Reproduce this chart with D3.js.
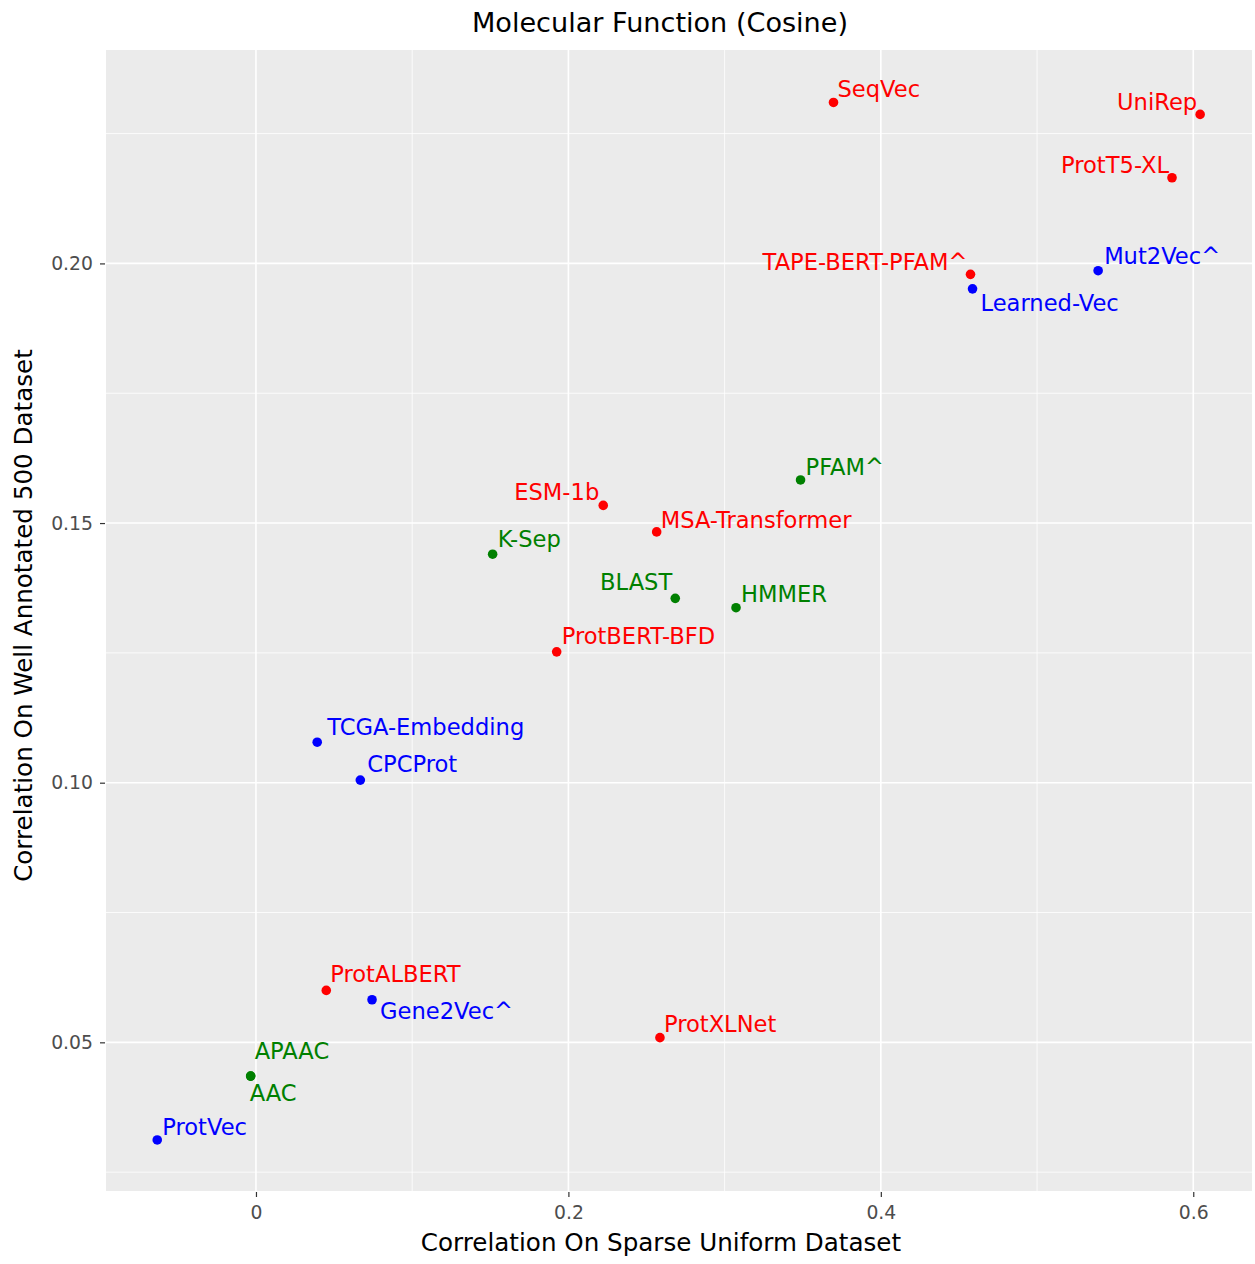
<!DOCTYPE html>
<html>
<head>
<meta charset="utf-8">
<script src="https://cdn.jsdelivr.net/npm/d3@7"></script>
<style>
  html, body { margin: 0; padding: 0; background: #ffffff; }
  svg { display: block; font-family: "DejaVu Sans", sans-serif; }
</style>
</head>
<body>
<svg id="chart" width="1255" height="1264"></svg>
<script>
// Embedding methods and their correlations on the two benchmark datasets
const methods = [
  "SeqVec", "UniRep", "ProtT5-XL", "TAPE-BERT-PFAM^", "Learned-Vec", "Mut2Vec^",
  "PFAM^", "ESM-1b", "MSA-Transformer", "K-Sep", "BLAST", "HMMER",
  "ProtBERT-BFD", "TCGA-Embedding", "CPCProt", "ProtALBERT", "Gene2Vec^",
  "ProtXLNet", "APAAC", "AAC", "ProtVec"
];
const sparseUniform = [
  0.3697, 0.6044, 0.5864, 0.4574, 0.4587, 0.5391,
  0.3486, 0.2223, 0.2565, 0.1515, 0.2684, 0.3073,
  0.1925, 0.0392, 0.0668, 0.0450, 0.0743,
  0.2586, -0.0034, -0.0034, -0.0632
];
const wellAnnotated = [
  0.2310, 0.2287, 0.2165, 0.1979, 0.1951, 0.1986,
  0.1583, 0.1534, 0.1483, 0.1440, 0.1355, 0.1337,
  0.1252, 0.1078, 0.1005, 0.0600, 0.0582,
  0.0509, 0.0435, 0.0435, 0.0312
];
const methodGroup = [
  "learned", "learned", "learned", "learned", "other", "other",
  "classic", "learned", "learned", "classic", "classic", "classic",
  "learned", "other", "other", "learned", "other",
  "learned", "classic", "classic", "other"
];

const xTicks = [0, 0.2, 0.4, 0.6];
const xMinor = [0.1, 0.3, 0.5];
const yTicks = [0.05, 0.10, 0.15, 0.20];
const yMinor = [0.025, 0.075, 0.125, 0.175, 0.225];

// Where each text label sits relative to its point (side and pixel nudge)
const labelAnchor = [
  "start", "end", "end", "end", "start", "start",
  "start", "end", "start", "start", "end", "start",
  "start", "start", "start", "start", "start",
  "start", "start", "start", "start"
];
const labelDx = [4, -3, -3, -3, 8, 6, 5, -4, 4, 5, -3, 5, 5, 10, 7, 4, 8, 4, 4, -1, 5];
const labelDy = [-5, -4, -5, -4, 22, -7, -5, -5, -4, -7, -8, -6, -8, -7, -8, -8, 19, -6, -17, 25, -5];

const groupColor = { learned: "#ff0000", other: "#0000ff", classic: "#008000" };

const points = methods.map((m, i) => ({
  name: m, x: sparseUniform[i], y: wellAnnotated[i], group: methodGroup[i],
  anchor: labelAnchor[i], dx: labelDx[i], dy: labelDy[i]
}));

const svg = d3.select("#chart");
const panel = { left: 106, right: 1252, top: 50, bottom: 1191 };

const x = d3.scaleLinear().domain([-0.0960, 0.6376]).range([panel.left, panel.right]);
const y = d3.scaleLinear().domain([0.02137, 0.2411]).range([panel.bottom, panel.top]);

// Panel background
svg.append("rect")
  .attr("x", panel.left).attr("y", panel.top)
  .attr("width", panel.right - panel.left).attr("height", panel.bottom - panel.top)
  .attr("fill", "#ebebeb");

const grid = svg.append("g");
grid.selectAll("line.xminor").data(xMinor).join("line")
  .attr("x1", d => x(d)).attr("x2", d => x(d))
  .attr("y1", panel.top).attr("y2", panel.bottom)
  .attr("stroke", "#ffffff").attr("stroke-width", 0.8);
grid.selectAll("line.yminor").data(yMinor).join("line")
  .attr("y1", d => y(d)).attr("y2", d => y(d))
  .attr("x1", panel.left).attr("x2", panel.right)
  .attr("stroke", "#ffffff").attr("stroke-width", 0.8);
grid.selectAll("line.xmajor").data(xTicks).join("line")
  .attr("x1", d => x(d)).attr("x2", d => x(d))
  .attr("y1", panel.top).attr("y2", panel.bottom)
  .attr("stroke", "#ffffff").attr("stroke-width", 1.6);
grid.selectAll("line.ymajor").data(yTicks).join("line")
  .attr("y1", d => y(d)).attr("y2", d => y(d))
  .attr("x1", panel.left).attr("x2", panel.right)
  .attr("stroke", "#ffffff").attr("stroke-width", 1.6);

// Axes
const xAxis = d3.axisBottom(x).tickValues(xTicks)
  .tickFormat(d => d === 0 ? "0" : d3.format(".1f")(d))
  .tickSize(5).tickPadding(9);
const yAxis = d3.axisLeft(y).tickValues(yTicks)
  .tickFormat(d3.format(".2f"))
  .tickSize(5).tickPadding(7);

const gx = svg.append("g").attr("transform", `translate(0,${panel.bottom + 1})`).call(xAxis);
const gy = svg.append("g").attr("transform", `translate(${panel.left - 1},0)`).call(yAxis);
[gx, gy].forEach(g => {
  g.select(".domain").remove();
  g.selectAll(".tick line").attr("stroke", "#333333").attr("stroke-width", 1.2);
  g.selectAll(".tick text")
    .attr("fill", "#4d4d4d")
    .style("font-family", "'DejaVu Sans', sans-serif")
    .style("font-size", "18.8px");
});

// Points
svg.append("g").selectAll("circle").data(points).join("circle")
  .attr("cx", d => x(d.x)).attr("cy", d => y(d.y))
  .attr("r", 4.8)
  .attr("fill", d => groupColor[d.group]);

// Point labels
svg.append("g").selectAll("text").data(points).join("text")
  .attr("x", d => x(d.x) + d.dx)
  .attr("y", d => y(d.y) + d.dy)
  .attr("text-anchor", d => d.anchor)
  .attr("fill", d => groupColor[d.group])
  .style("font-size", "22.6px")
  .text(d => d.name);

// Titles
svg.append("text")
  .attr("x", 660).attr("y", 32)
  .attr("text-anchor", "middle")
  .attr("fill", "#000000")
  .style("font-size", "27.1px")
  .text("Molecular Function (Cosine)");

svg.append("text")
  .attr("x", 661).attr("y", 1251)
  .attr("text-anchor", "middle")
  .attr("fill", "#000000")
  .style("font-size", "24.6px")
  .text("Correlation On Sparse Uniform Dataset");

svg.append("text")
  .attr("transform", `translate(32,${(panel.top + panel.bottom) / 2 - 5}) rotate(-90)`)
  .attr("text-anchor", "middle")
  .attr("fill", "#000000")
  .style("font-size", "24.6px")
  .text("Correlation On Well Annotated 500 Dataset");
</script>
</body>
</html>
